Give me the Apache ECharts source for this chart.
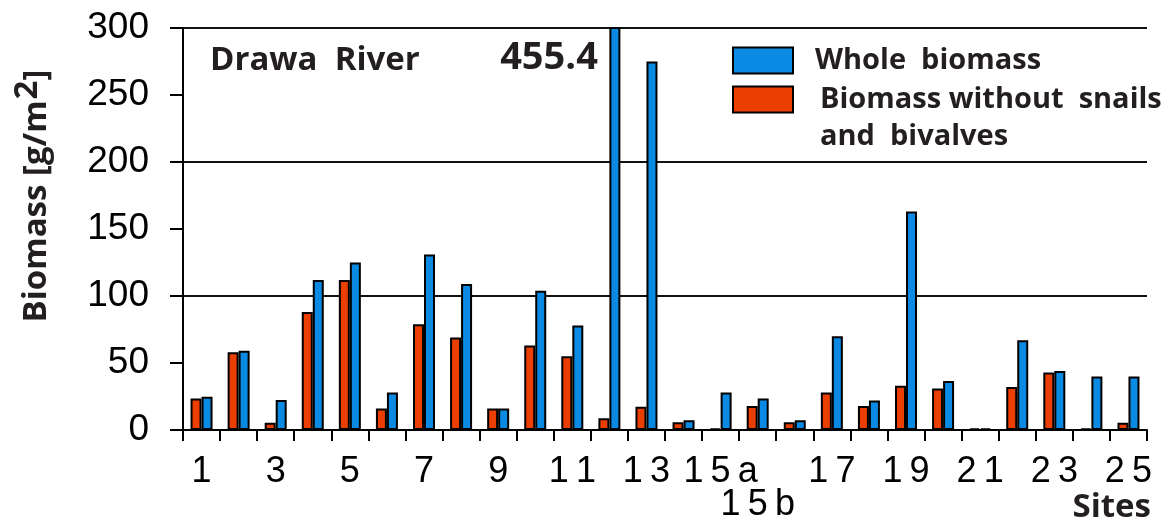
<!DOCTYPE html>
<html>
<head>
<meta charset="utf-8">
<script src="https://cdn.jsdelivr.net/npm/echarts@6/dist/echarts.min.js"></script>
<style>html,body{margin:0;padding:0;background:#fff;}#c{width:1165px;height:528px;}</style>
</head>
<body>
<div id="c"></div>
<script>
const sites = ['1','2','3','4','5','6','7','8','9','10','11','12','13','14','15a','15b','16','17','18','19','20','21','22','23','24','25'];
const shownLabels = ['1','3','5','7','9','11','13','15a','15b','17','19','21','23','25'];
const withoutSnails = [23.6,58,5.5,88,112,16,79,69,16,63,55,8.7,17.4,5.7,1.2,17.9,5.7,28,18,33,31,1.2,32,43,1,5.4];
const wholeBiomass = [24.9,59.2,22.4,112,125,28,131,109,16,104,78,455.4,275,7.2,28,23.6,7.2,70,22,163,36.6,1.2,67,44,40,40];
const yTicks = [0,50,100,150,200,250,300];
const nameWhole = 'Whole biomass';
const nameWithout = 'Biomass without snails and bivalves';
const BLUE = '#0a8ae2', RED = '#ea3f00', INK = '#231f20';
const boldFont = '"Open Sans", "Noto Sans", sans-serif';

const chart = echarts.init(document.getElementById('c'));
const spaced = s => s.split('').join('\u2009');
chart.setOption({
  backgroundColor: '#fff',
  animation: false,
  title: [
    { text: 'Drawa  River', left: 205, top: 39, textStyle: { fontFamily: boldFont, fontWeight: 'bold', fontSize: 33, color: INK } },
    { text: 'Sites', right: 9, bottom: -1, textStyle: { fontFamily: boldFont, fontWeight: 'bold', fontSize: 33, color: INK } }
  ],
  legend: [
    {
      data: [nameWhole], left: 732, top: 46, padding: 0, orient: 'vertical',
      itemWidth: 60, itemHeight: 26, icon: 'rect', selectedMode: false,
      formatter: n => '{a|Whole  biomass}',
      textStyle: { rich: { a: { fontFamily: boldFont, fontWeight: 'bold', fontSize: 29, color: INK, padding: [0,0,0,17], lineHeight: 37 } } }
    },
    {
      data: [nameWithout], left: 732, top: 48, padding: 0, orient: 'vertical',
      itemWidth: 60, itemHeight: 26, icon: 'rect', selectedMode: false,
      formatter: n => '{a| }\n{a|Biomass without  snails}\n{a|and  bivalves}',
      textStyle: { rich: { a: { fontFamily: boldFont, fontWeight: 'bold', fontSize: 29, color: INK, padding: [0,0,0,22], lineHeight: 37 } } }
    }
  ],
  grid: { left: 183, right: 18, top: 28, bottom: 98, containLabel: false },
  xAxis: {
    type: 'category', data: sites,
    axisLine: { show: true, lineStyle: { color: '#000', width: 2 } },
    axisTick: { show: true, alignWithLabel: false, length: 11, inside: false, lineStyle: { color: '#000', width: 2 } },
    axisLabel: {
      interval: 0, margin: 26, fontFamily: '"Liberation Sans", Arial, sans-serif', fontSize: 36, color: '#000', lineHeight: 33,
      formatter: v => shownLabels.indexOf(v) < 0 ? '' : (v === '15b' ? '\n' + spaced(v) : spaced(v))
    },
    splitLine: { show: false }
  },
  yAxis: [
    {
      type: 'value', min: yTicks[0], max: yTicks[yTicks.length-1], interval: 50,
      axisLine: { show: true, lineStyle: { color: '#000', width: 2 } },
      axisTick: { show: true, length: 13, lineStyle: { color: '#000', width: 2 } },
      axisLabel: { margin: 34, fontFamily: '"Liberation Sans", Arial, sans-serif', fontSize: 37, color: '#000' },
      splitLine: { show: false },
      name: '{a|Biomass [g/m}{s|2}{a|]}', nameLocation: 'middle', nameGap: 128, nameRotate: 90,
      nameTextStyle: {
        padding: [0, 0, 0, 66],
        rich: {
          a: { fontFamily: boldFont, fontWeight: 'bold', fontSize: 33, color: INK, lineHeight: 36 },
          s: { fontFamily: boldFont, fontWeight: 'bold', fontSize: 33, color: INK, lineHeight: 36, padding: [0,0,18,1] }
        }
      }
    },
    {
      type: 'value', min: 0, max: 300, interval: 100, show: true,
      axisLine: { show: false }, axisTick: { show: false }, axisLabel: { show: false },
      splitLine: { show: true, lineStyle: { color: '#111', width: 2 } }
    }
  ],
  series: [
    {
      name: nameWithout, type: 'bar', data: withoutSnails, barWidth: 11, barGap: '0%',
      itemStyle: { color: RED, borderColor: '#000', borderWidth: 2 }
    },
    {
      name: nameWhole, type: 'bar', data: wholeBiomass, barWidth: 11, barGap: '0%',
      itemStyle: { color: BLUE, borderColor: '#000', borderWidth: 2 },
      markPoint: {
        symbol: 'rect', symbolSize: 0,
        data: [{ coord: ['12', 300], value: wholeBiomass[11] }],
        label: { show: true, position: 'left', distance: 17, offset: [0, 30], formatter: p => String(p.value),
          fontFamily: boldFont, fontWeight: 'bold', fontSize: 38, color: INK }
      }
    }
  ]
});
</script>
</body>
</html>
